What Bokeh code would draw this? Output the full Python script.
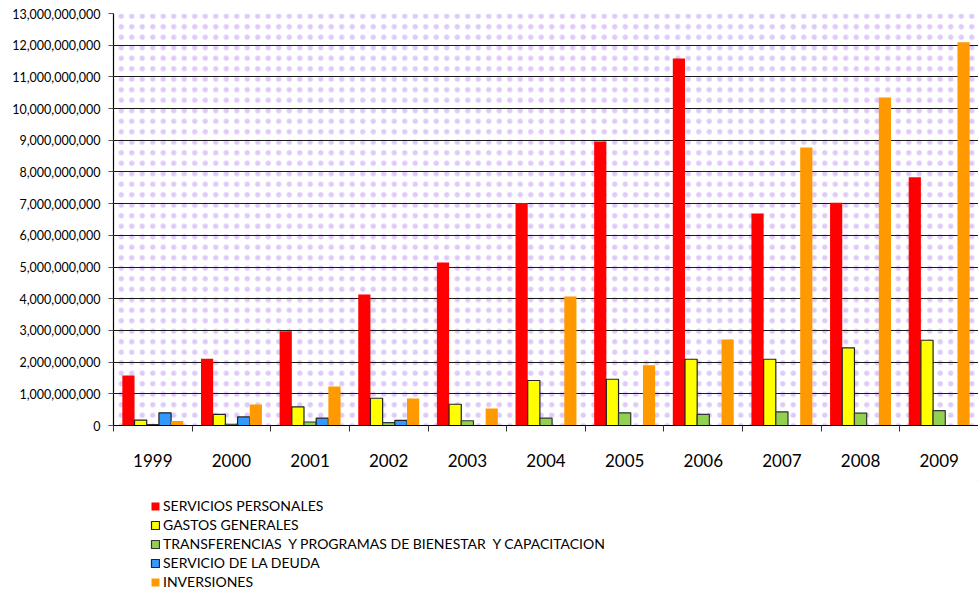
from bokeh.plotting import figure
from bokeh.layouts import column
from bokeh.models import (FixedTicker, NumeralTickFormatter, Legend, LegendItem,
                          BoxAnnotation, Range1d, ColumnDataSource, CDSView, IndexFilter)
from bokeh.embed import file_html
from bokeh.resources import INLINE

years = ["1999", "2000", "2001", "2002", "2003", "2004", "2005", "2006", "2007", "2008", "2009"]

servicios_personales = [1.58e9, 2.11e9, 2.97e9, 4.13e9, 5.14e9, 7.02e9, 8.96e9, 11.58e9, 6.69e9, 7.03e9, 7.83e9]
gastos_generales = [0.17e9, 0.35e9, 0.59e9, 0.86e9, 0.67e9, 1.42e9, 1.46e9, 2.09e9, 2.09e9, 2.45e9, 2.69e9]
transferencias = [0.03e9, 0.04e9, 0.11e9, 0.09e9, 0.15e9, 0.23e9, 0.40e9, 0.35e9, 0.43e9, 0.39e9, 0.47e9]
servicio_deuda = [0.40e9, 0.27e9, 0.23e9, 0.16e9, 0, 0, 0, 0, 0, 0, 0]
inversiones = [0.14e9, 0.66e9, 1.23e9, 0.85e9, 0.54e9, 4.07e9, 1.90e9, 2.71e9, 8.77e9, 10.35e9, 12.09e9]

series_labels = [
    "SERVICIOS PERSONALES",
    "GASTOS GENERALES",
    "TRANSFERENCIAS  Y PROGRAMAS DE BIENESTAR  Y CAPACITACION",
    "SERVICIO DE LA DEUDA",
    "INVERSIONES",
]
series_values = [servicios_personales, gastos_generales, transferencias, servicio_deuda, inversiones]
series_fill = ["#FF0000", "#FFFF00", "#92D050", "#3399FF", "#FF9900"]
series_line = [None, "#222222", "#333333", "#222222", None]

y_tick_values = [i * 1e9 for i in range(14)]

n = len(years)
bar_w = 0.155
offsets = [-0.31, -0.155, 0.0, 0.155, 0.31]

p = figure(width=978, height=480, x_range=Range1d(0, n), y_range=Range1d(0, 13e9),
           output_backend="svg", toolbar_location=None,
           min_border_left=113, min_border_right=0, min_border_top=13, min_border_bottom=55)
p.outline_line_color = None
p.background_fill_color = "white"
p.border_fill_color = "white"

bg = BoxAnnotation(left=0, right=n, bottom=0, top=13e9, fill_alpha=0, line_alpha=0,
                   hatch_pattern="dot", hatch_color="#c39cf5", hatch_scale=10.5,
                   hatch_weight=0.9, hatch_alpha=0.55, level="image")
p.add_layout(bg)

sources = []
for vals, fc, lc, off in zip(series_values, series_fill, series_line, offsets):
    src = ColumnDataSource(dict(x=[i + 0.5 + off for i in range(n)], top=vals))
    sources.append(src)
    p.vbar(x="x", top="top", width=bar_w, source=src, fill_color=fc,
           line_color=lc if lc else None, line_width=1.2)

# grid
p.xgrid.grid_line_color = None
p.ygrid.grid_line_color = "#1a1a1a"
p.ygrid.grid_line_width = 1.1
p.ygrid.ticker = FixedTicker(ticks=y_tick_values)

# y axis
p.yaxis.ticker = FixedTicker(ticks=y_tick_values)
p.yaxis.formatter = NumeralTickFormatter(format="0,0")
p.yaxis.major_label_text_font = "Lato"
p.yaxis.major_label_text_font_size = "12.5px"
p.yaxis.major_label_text_color = "#000000"
p.yaxis.axis_line_color = "#000000"
p.yaxis.axis_line_width = 1.2
p.yaxis.major_tick_out = 5
p.yaxis.major_tick_in = 0
p.yaxis.major_tick_line_color = "#555555"
p.yaxis.minor_tick_line_color = None
p.yaxis.major_label_standoff = 8

# x axis: labels at centres, ticks at boundaries
centres = [i + 0.5 for i in range(n)]
p.xaxis.ticker = FixedTicker(ticks=centres, minor_ticks=list(range(n + 1)))
p.xaxis.major_label_overrides = {c: y for c, y in zip(centres, years)}
p.xaxis.major_tick_out = 0
p.xaxis.major_tick_in = 0
p.xaxis.minor_tick_out = 6
p.xaxis.minor_tick_in = 0
p.xaxis.minor_tick_line_color = "#333333"
p.xaxis.axis_line_color = "#000000"
p.xaxis.axis_line_width = 1.2
p.xaxis.major_label_text_font = "Lato"
p.xaxis.major_label_text_font_size = "17px"
p.xaxis.major_label_text_color = "#000000"
p.xaxis.major_label_standoff = 22

# legend panel below the chart (its renderers lie far outside its visible ranges)
p2 = figure(width=978, height=115, x_range=Range1d(-200, -199), y_range=Range1d(-2e12, -1e12),
            output_backend="svg", toolbar_location=None, min_border=0)
p2.axis.visible = False
p2.grid.grid_line_color = None
p2.outline_line_color = None

items = []
for name, src, fc, lc in zip(series_labels, sources, series_fill, series_line):
    r = p2.vbar(x="x", top="top", width=bar_w, source=src, fill_color=fc,
                line_color=lc if lc else None, line_width=1.2,
                view=CDSView(filter=IndexFilter(indices=[0])))
    items.append(LegendItem(label=name, renderers=[r]))

legend = Legend(items=items, location=(37, 4), orientation="vertical",
                margin=0, padding=0, spacing=0,
                glyph_width=10, glyph_height=10, label_height=19,
                label_standoff=3, border_line_color=None, background_fill_alpha=0,
                label_text_font="Lato", label_text_font_size="14px",
                label_text_color="#000000")
p2.add_layout(legend)

layout = column(p, p2, spacing=0)
open("out.html", "w").write(file_html(layout, INLINE))
